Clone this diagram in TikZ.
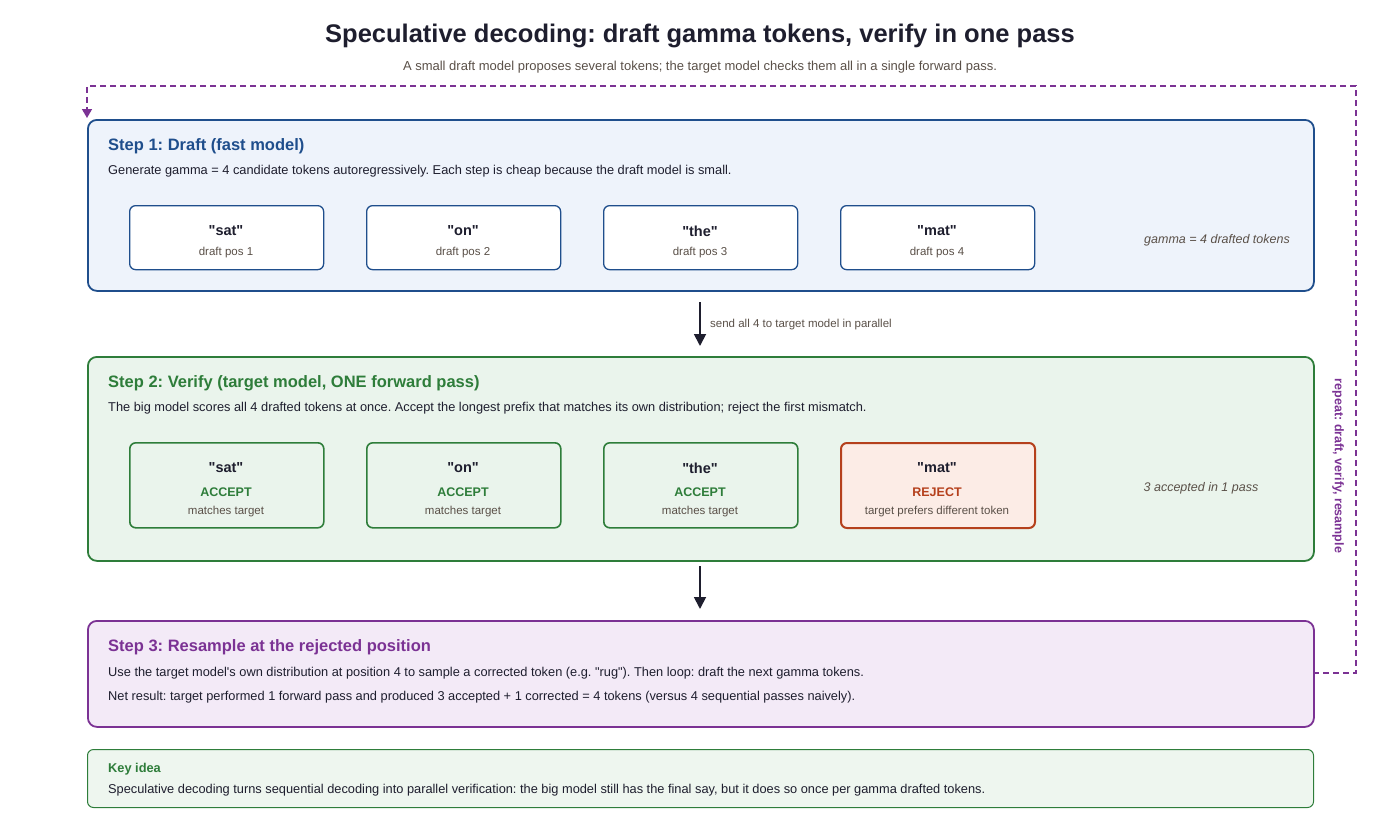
\documentclass[tikz,border=0pt]{standalone}
\usepackage{fontspec}
\setmainfont{Liberation Sans}[Ligatures=TeXOff]
\frenchspacing
\newcommand\qq{\symbol{34}}
\usetikzlibrary{arrows.meta}
\definecolor{bluec}{HTML}{1F4E8C}\definecolor{bluef}{HTML}{EEF3FB}
\definecolor{greenc}{HTML}{2E7D3A}\definecolor{greenf}{HTML}{EAF4EC}
\definecolor{purc}{HTML}{7B3294}\definecolor{purf}{HTML}{F3EAF7}
\definecolor{redc}{HTML}{B5401C}\definecolor{redf}{HTML}{FCECE6}
\definecolor{inkc}{HTML}{1E1E2E}\definecolor{mutc}{HTML}{5A5048}
\definecolor{keyf}{HTML}{EEF6EF}
\tikzset{
 panel/.style={draw=#1,line width=1.8pt,rounded corners=9pt,anchor=north west,inner sep=0pt},
 tok/.style={draw=#1,line width=1.3pt,rounded corners=6pt,anchor=north west,inner sep=0pt,fill=white},
 lbl/.style={anchor=west,inner sep=0pt,font=\fontsize{12.8}{15}\selectfont,text=inkc},
 ttl/.style={anchor=west,inner sep=0pt,font=\fontsize{16.5}{19}\selectfont\bfseries},
 tk/.style={inner sep=0pt,font=\fontsize{14.5}{16}\selectfont\bfseries,text=inkc},
 sub/.style={inner sep=0pt,font=\fontsize{11.5}{13}\selectfont,text=mutc},
 arr/.style={-{Triangle[length=12pt,width=12pt]},line width=1.8pt,draw=inkc}
}
\begin{document}
\begin{tikzpicture}[x=1pt,y=-1pt]
\useasboundingbox (0,0) rectangle (1400,819);
\node[inner sep=0pt,font=\fontsize{25.5}{28}\selectfont\bfseries,text=inkc] (title) at (700,36) {Speculative decoding: draft gamma tokens, verify in one pass};
\node[inner sep=0pt,font=\fontsize{13}{15}\selectfont,text=mutc] (subt) at (700,67) {A small draft model proposes several tokens; the target model checks them all in a single forward pass.};
% step 1
\node[panel=bluec,fill=bluef,minimum width=1226pt,minimum height=171pt] (s1) at (87,119) {};
\node[ttl,text=bluec] (s1t) at (108,146) {Step 1: Draft (fast model)};
\node[lbl] (s1d) at (108,171) {Generate gamma = 4 candidate tokens autoregressively. Each step is cheap because the draft model is small.};
\foreach \x/\w/\n in {129/sat/1,366/on/2,603/the/3,840/mat/4}{
 \node[tok=bluec,minimum width=194pt,minimum height=64pt] (d\n) at (\x,205) {};
 \node[tk] (d\n a) at (\x+97,231) {\qq\w\qq};
 \node[sub] (d\n b) at (\x+97,253) {draft pos \n};
}
\node[inner sep=0pt,font=\fontsize{12.5}{14}\selectfont\itshape,text=mutc] (g4) at (1217,240) {gamma = 4 drafted tokens};
% arrow 1
\coordinate (a1s) at (700,302);\coordinate (a1e) at (700,346);
\draw[arr] (a1s) -- (a1e);
\node[anchor=west,inner sep=0pt,font=\fontsize{11.5}{13}\selectfont,text=mutc] (a1l) at (710,325) {send all 4 to target model in parallel};
% step 2
\node[panel=greenc,fill=greenf,minimum width=1226pt,minimum height=204pt] (s2) at (87,356) {};
\node[ttl,text=greenc] (s2t) at (108,383) {Step 2: Verify (target model, ONE forward pass)};
\node[lbl] (s2d) at (108,408) {The big model scores all 4 drafted tokens at once. Accept the longest prefix that matches its own distribution; reject the first mismatch.};
\foreach \x/\w/\n in {129/sat/1,366/on/2,603/the/3}{
 \node[tok=greenc,fill=greenf,minimum width=194pt,minimum height=85pt,line width=1.6pt] (v\n) at (\x,442) {};
 \node[tk] (v\n a) at (\x+97,468) {\qq\w\qq};
 \node[tk,font=\fontsize{12.5}{14}\selectfont\bfseries,text=greenc] (v\n b) at (\x+97,492) {ACCEPT};
 \node[sub] (v\n c) at (\x+97,512) {matches target};
}
\node[tok=redc,fill=redf,minimum width=194pt,minimum height=85pt,line width=2pt] (v4) at (840,442) {};
\node[tk] (v4a) at (937,468) {\qq mat\qq};
\node[tk,font=\fontsize{12.5}{14}\selectfont\bfseries,text=redc] (v4b) at (937,492) {REJECT};
\node[sub] (v4c) at (937,512) {target prefers different token};
\node[inner sep=0pt,font=\fontsize{12.5}{14}\selectfont\itshape,text=mutc] (acc) at (1201,488) {3 accepted in 1 pass};
% arrow 2
\coordinate (a2s) at (700,566);\coordinate (a2e) at (700,609);
\draw[arr] (a2s) -- (a2e);
% step 3
\node[panel=purc,fill=purf,minimum width=1226pt,minimum height=106pt] (s3) at (87,620) {};
\node[ttl,text=purc] (s3t) at (108,647) {Step 3: Resample at the rejected position};
\node[lbl] (s3a) at (108,673) {Use the target model's own distribution at position 4 to sample a corrected token (e.g. \qq rug\qq). Then loop: draft the next gamma tokens.};
\node[lbl] (s3b) at (108,697) {Net result: target performed 1 forward pass and produced 3 accepted + 1 corrected = 4 tokens (versus 4 sequential passes naively).};
% key idea
\node[draw=greenc,line width=1pt,fill=keyf,rounded corners=6pt,anchor=north west,inner sep=0pt,minimum width=1226pt,minimum height=58pt] (key) at (87,749) {};
\node[anchor=west,inner sep=0pt,font=\fontsize{12.8}{14}\selectfont\bfseries,text=greenc] (kt) at (108,769) {Key idea};
\node[lbl] (kd) at (108,790) {Speculative decoding turns sequential decoding into parallel verification: the big model still has the final say, but it does so once per gamma drafted tokens.};
% loop
\coordinate (l0) at (1313,673);
\coordinate (l1) at (1356,673);\coordinate (l2) at (1356,86);\coordinate (l3) at (87,86);\coordinate (l4) at (87,118);
\draw[purc,line width=1.6pt,dash pattern=on 6pt off 4pt,-{Triangle[length=9pt,width=10pt]}] (l0) -- (l1) -- (l2) -- (l3) -- (l4);
\node[rotate=-90,inner sep=0pt,font=\fontsize{12.5}{14}\selectfont\bfseries,text=purc] (ll) at (1338,466) {repeat: draft, verify, resample};
\end{tikzpicture}
\end{document}
